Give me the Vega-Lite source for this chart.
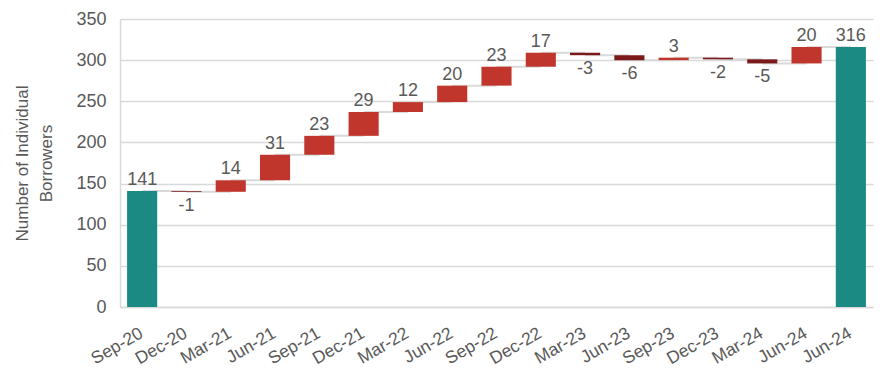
{
  "$schema": "https://vega.github.io/schema/vega-lite/v6.json",
  "width": 753,
  "height": 288,
  "autosize": {"type": "none"},
  "padding": {"left": 120, "top": 19, "right": 7, "bottom": 63},
  "config": {
    "view": {"stroke": null},
    "font": "Liberation Sans",
    "axis": {"labelColor": "#595959", "titleColor": "#595959", "labelFont": "Liberation Sans", "titleFont": "Liberation Sans"}
  },
  "data": {
    "values": [
      {"idx": 0, "period": "Sep-20", "type": "total", "value": 141, "start": 0, "end": 141, "next": 1},
      {"idx": 1, "period": "Dec-20", "type": "down", "value": -1, "start": 141, "end": 140, "next": 2},
      {"idx": 2, "period": "Mar-21", "type": "up", "value": 14, "start": 140, "end": 154, "next": 3},
      {"idx": 3, "period": "Jun-21", "type": "up", "value": 31, "start": 154, "end": 185, "next": 4},
      {"idx": 4, "period": "Sep-21", "type": "up", "value": 23, "start": 185, "end": 208, "next": 5},
      {"idx": 5, "period": "Dec-21", "type": "up", "value": 29, "start": 208, "end": 237, "next": 6},
      {"idx": 6, "period": "Mar-22", "type": "up", "value": 12, "start": 237, "end": 249, "next": 7},
      {"idx": 7, "period": "Jun-22", "type": "up", "value": 20, "start": 249, "end": 269, "next": 8},
      {"idx": 8, "period": "Sep-22", "type": "up", "value": 23, "start": 269, "end": 292, "next": 9},
      {"idx": 9, "period": "Dec-22", "type": "up", "value": 17, "start": 292, "end": 309, "next": 10},
      {"idx": 10, "period": "Mar-23", "type": "down", "value": -3, "start": 309, "end": 306, "next": 11},
      {"idx": 11, "period": "Jun-23", "type": "down", "value": -6, "start": 306, "end": 300, "next": 12},
      {"idx": 12, "period": "Sep-23", "type": "up", "value": 3, "start": 300, "end": 303, "next": 13},
      {"idx": 13, "period": "Dec-23", "type": "down", "value": -2, "start": 303, "end": 301, "next": 14},
      {"idx": 14, "period": "Mar-24", "type": "down", "value": -5, "start": 301, "end": 296, "next": 15},
      {"idx": 15, "period": "Jun-24", "type": "up", "value": 20, "start": 296, "end": 316, "next": 16},
      {"idx": 16, "period": "Jun-24", "type": "total", "value": 316, "start": 0, "end": 316, "next": null}
    ]
  },
  "encoding": {
    "x": {
      "field": "idx",
      "type": "ordinal",
      "scale": {"paddingInner": 0.32, "paddingOuter": 0.16},
      "axis": {
        "title": null,
        "labelExpr": "['Sep-20','Dec-20','Mar-21','Jun-21','Sep-21','Dec-21','Mar-22','Jun-22','Sep-22','Dec-22','Mar-23','Jun-23','Sep-23','Dec-23','Mar-24','Jun-24','Jun-24'][datum.value]",
        "labelAngle": -30,
        "labelFontSize": 17.5,
        "labelPadding": 17,
        "labelOffset": -5,
        "ticks": false,
        "domainColor": "#d9d9d9",
        "domainWidth": 1.5
      }
    }
  },
  "layer": [
    {
      "transform": [{"filter": "datum.next != null"}],
      "mark": {"type": "rule", "color": "#d9d9d9", "strokeWidth": 2},
      "encoding": {
        "x2": {"field": "next"},
        "y": {
          "field": "end",
          "type": "quantitative",
          "scale": {"domain": [0, 350], "nice": false},
          "axis": {
            "values": [0, 50, 100, 150, 200, 250, 300, 350],
            "title": ["Number of Individual", "Borrowers"],
            "titleFontSize": 17,
            "titleFontWeight": "normal",
            "titleLineHeight": 24,
            "titlePadding": 20,
            "labelFontSize": 18,
            "labelPadding": 14,
            "ticks": false,
            "gridColor": "#d9d9d9",
            "gridWidth": 1.5,
            "domainColor": "#d9d9d9",
            "domainWidth": 1.5
          }
        }
      }
    },
    {
      "mark": {"type": "bar"},
      "encoding": {
        "y": {"field": "start", "type": "quantitative"},
        "y2": {"field": "end"},
        "color": {
          "field": "type",
          "type": "nominal",
          "scale": {"domain": ["total", "up", "down"], "range": ["#1b8a82", "#c0362d", "#7a1a1a"]},
          "legend": null
        }
      }
    },
    {
      "transform": [{"filter": "datum.type != 'down'"}],
      "mark": {"type": "text", "baseline": "bottom", "dy": -2, "fontSize": 18, "color": "#595959"},
      "encoding": {
        "y": {"field": "end", "type": "quantitative"},
        "text": {"field": "value", "type": "nominal"}
      }
    },
    {
      "transform": [{"filter": "datum.type == 'down'"}],
      "mark": {"type": "text", "baseline": "top", "dy": 5, "fontSize": 18, "color": "#595959"},
      "encoding": {
        "y": {"field": "end", "type": "quantitative"},
        "text": {"field": "value", "type": "nominal"}
      }
    }
  ]
}
